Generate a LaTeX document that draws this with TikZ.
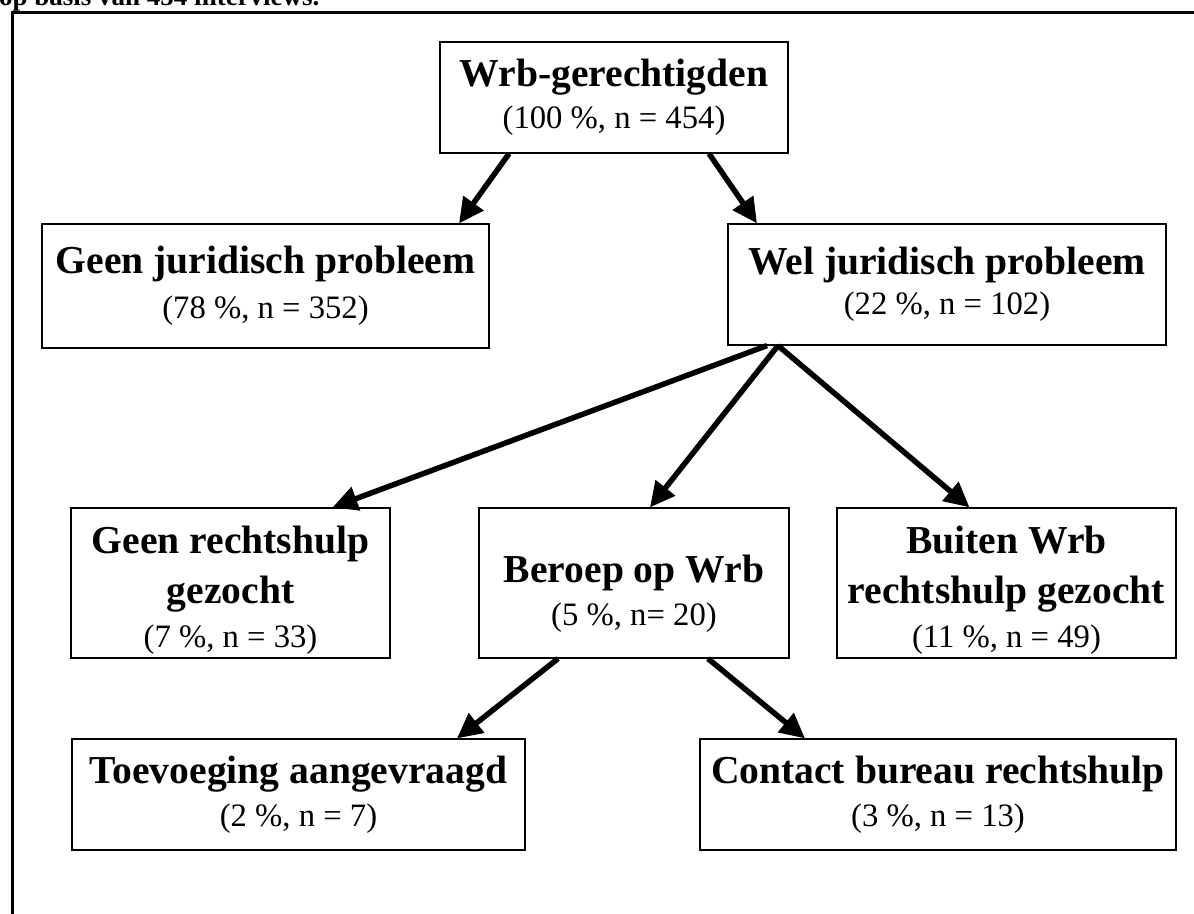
\documentclass[tikz,border=0pt]{standalone}
\usepackage{fontspec}
\setmainfont{Liberation Serif}
\usetikzlibrary{arrows.meta}

\newcommand{\kop}{\fontsize{39.6}{50}\selectfont\bfseries}
\newcommand{\aantal}{\fontsize{32.7}{43}\selectfont\mdseries}

\begin{document}
\begin{tikzpicture}[x=1pt, y=-1pt]
% Stijlen
\tikzset{
  uitkomst/.style={rectangle, draw, line width=1.2pt, align=center, inner sep=0pt, font=\kop},
  pijl/.style={line width=5.5pt, -{Triangle[length=25pt, width=24pt]}}
}
\useasboundingbox (0,0) rectangle (1194,913);

% Kader en bijschrift
\draw[line width=3pt] (12,940) -- (12,12) -- (1220,12);
\node[anchor=base west, inner sep=0pt, font=\fontsize{27}{32}\selectfont\bfseries] (bijschrift) at (-1,5) {op basis van 454 interviews.};

% Niveau 1
\node[uitkomst, minimum width=348pt, minimum height=111pt] (gerechtigd) at (614,97.5) {Wrb-gerechtigden\\[-8pt]{\aantal (100~\%, n = 454)}};

% Niveau 2
\node[uitkomst, minimum width=447pt, minimum height=124pt] (geenprobleem) at (265.5,286) {Geen juridisch probleem\\[-5pt]{\aantal (78~\%, n = 352)}};
\node[uitkomst, minimum width=438pt, minimum height=121pt] (welprobleem) at (947,284.5) {Wel juridisch probleem\\[-10pt]{\aantal (22~\%, n = 102)}};

% Niveau 3
\node[uitkomst, minimum width=319pt, minimum height=150pt] (geenhulp) at (230.5,583) {\rule{0pt}{41pt}Geen rechtshulp\\gezocht\\[-6pt]{\aantal (7~\%, n = 33)}};
\node[uitkomst, minimum width=310pt, minimum height=150pt] (beroep) at (634,583) {\rule{0pt}{48pt}Beroep op Wrb\\[-7pt]{\aantal (5~\%, n= 20)}};
\node[uitkomst, minimum width=339pt, minimum height=150pt] (buiten) at (1006.5,583) {\rule{0pt}{41pt}Buiten Wrb\\rechtshulp gezocht\\[-6pt]{\aantal (11~\%, n = 49)}};

% Niveau 4
\node[uitkomst, minimum width=453pt, minimum height=111pt] (toevoeging) at (298.5,794.5) {Toevoeging aangevraagd\\[-7pt]{\aantal (2~\%, n = 7)}};
\node[uitkomst, minimum width=476pt, minimum height=111pt] (bureau) at (938,794.5) {Contact bureau rechtshulp\\[-7pt]{\aantal (3~\%, n = 13)}};

% Pijlen
\draw[pijl] ([xshift=-105pt]gerechtigd.south) -- ([xshift=193.5pt]geenprobleem.north);
\draw[pijl] ([xshift=95pt]gerechtigd.south) -- ([xshift=-190pt]welprobleem.north);

\draw[pijl] ([xshift=-180pt]welprobleem.south) -- ([xshift=102pt]geenhulp.north);
\draw[pijl] ([xshift=-169pt]welprobleem.south) -- ([xshift=16pt]beroep.north);
\draw[pijl] ([xshift=-169pt]welprobleem.south) -- ([xshift=-37pt]buiten.north);

\draw[pijl] ([xshift=-76pt]beroep.south) -- ([xshift=158.5pt]toevoeging.north);
\draw[pijl] ([xshift=74pt]beroep.south) -- ([xshift=-133pt]bureau.north);

\end{tikzpicture}
\end{document}
